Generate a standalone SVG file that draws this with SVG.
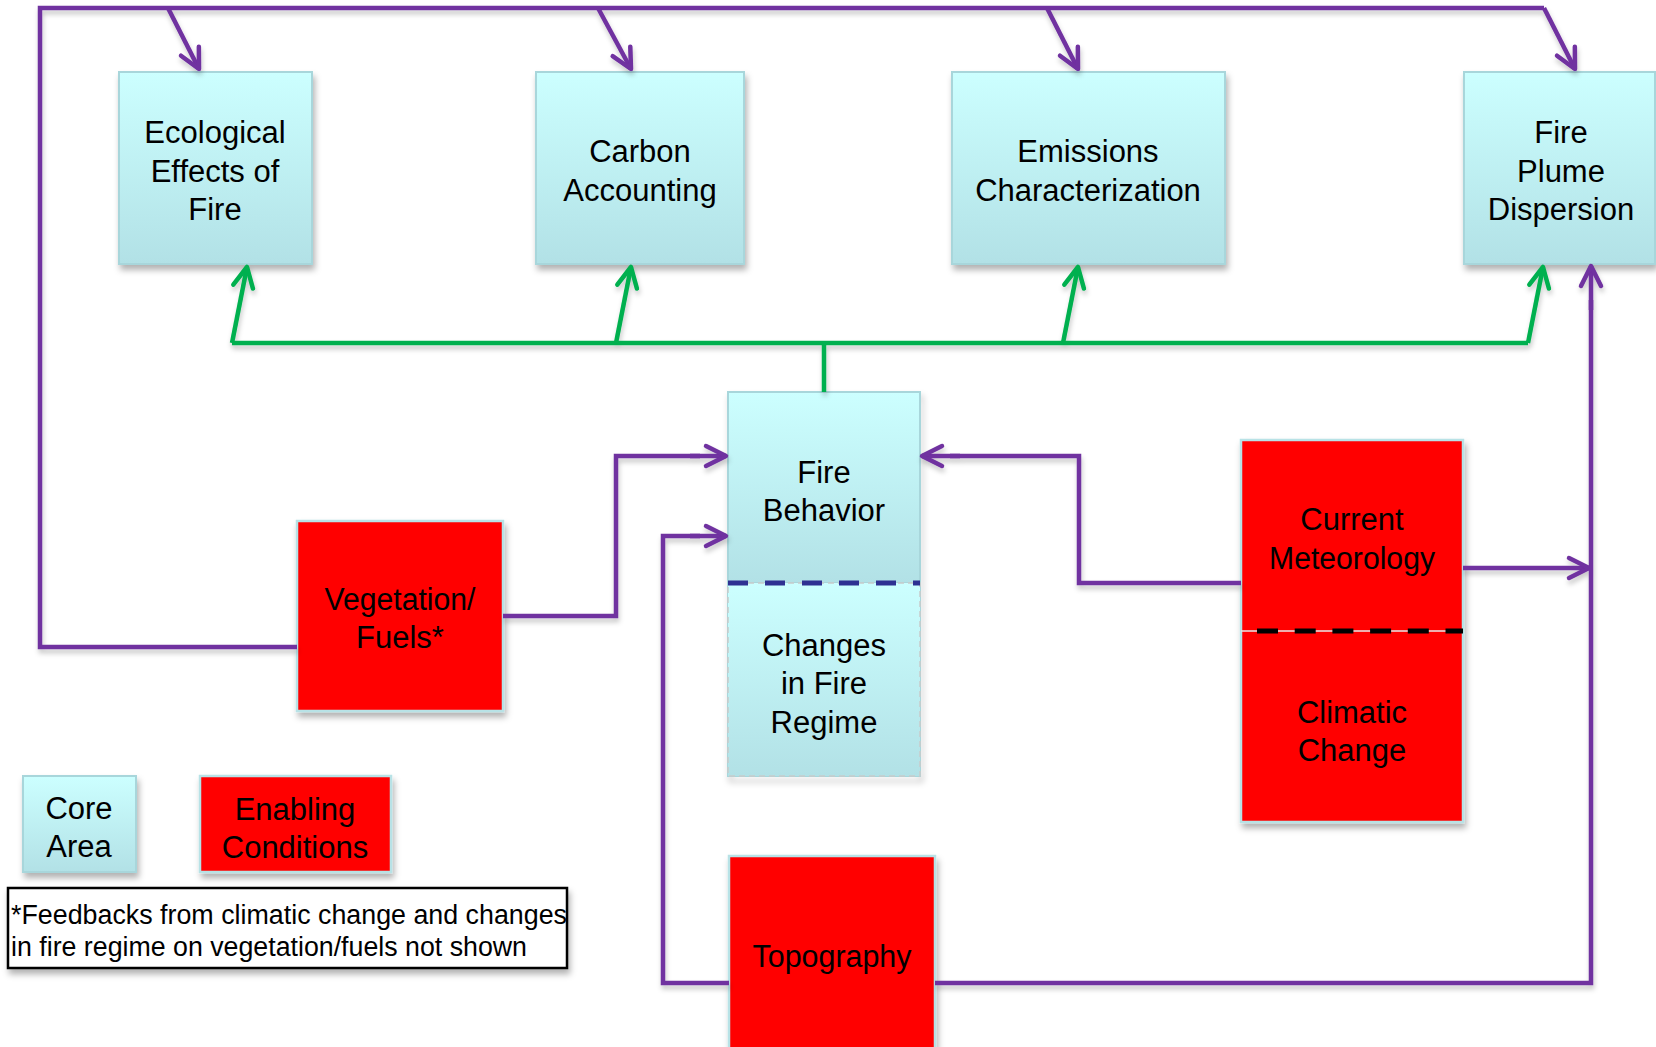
<svg xmlns="http://www.w3.org/2000/svg" width="1656" height="1047" viewBox="0 0 1656 1047">
<defs>
<linearGradient id="cyan" x1="0" y1="0" x2="0" y2="1">
<stop offset="0" stop-color="#CCFFFF"/>
<stop offset="1" stop-color="#B2E1E6"/>
</linearGradient>
<filter id="sh" x="-10%" y="-10%" width="130%" height="130%">
<feDropShadow dx="2" dy="5" stdDeviation="3" flood-color="#000" flood-opacity="0.3"/>
</filter>
<filter id="lsh" x="-5%" y="-5%" width="110%" height="110%">
<feDropShadow dx="1" dy="4" stdDeviation="2.5" flood-color="#000" flood-opacity="0.22"/>
</filter>
<marker id="ap" markerUnits="userSpaceOnUse" markerWidth="50" markerHeight="50" viewBox="-25 -25 50 50" refX="0" refY="0" orient="auto">
<path d="M-20,-10 L0,0 L-20,10" fill="none" stroke="#7030A0" stroke-width="4.5" stroke-linecap="round" stroke-linejoin="round"/>
</marker>
<marker id="ag" markerUnits="userSpaceOnUse" markerWidth="50" markerHeight="50" viewBox="-25 -25 50 50" refX="0" refY="0" orient="auto">
<path d="M-20,-10 L0,0 L-20,10" fill="none" stroke="#00B050" stroke-width="4.5" stroke-linecap="round" stroke-linejoin="round"/>
</marker>
</defs>
<style>
.core{fill:url(#cyan);stroke:#A8D6DB;stroke-width:2;filter:url(#sh)}
.coredash{fill:url(#cyan);stroke:#C8CCCC;stroke-width:1.5;stroke-dasharray:6 4}
.red{fill:#FF0000;stroke:#B8E2E6;stroke-width:2.5;filter:url(#sh)}
.t{font-family:"Liberation Sans",Arial,sans-serif;font-size:31px;fill:#000;text-anchor:middle}
.note{font-family:"Liberation Sans",Arial,sans-serif;font-size:27px;fill:#000}
.p{fill:none;stroke:#7030A0;stroke-width:4.5;stroke-linejoin:miter}
.pa{fill:none;stroke:#7030A0;stroke-width:4.5;marker-end:url(#ap)}
.g{fill:none;stroke:#00B050;stroke-width:4.5}
.ga{fill:none;stroke:#00B050;stroke-width:4.5;marker-end:url(#ag)}
</style>
<rect width="1656" height="1047" fill="#FFFFFF"/>

<g id="node-ecological">
<rect class="core" x="119" y="72" width="193" height="192"/>
<text class="t" x="215" y="143">Ecological</text>
<text class="t" x="215" y="182">Effects of</text>
<text class="t" x="215" y="220">Fire</text>
</g>
<g id="node-carbon">
<rect class="core" x="536" y="72" width="208" height="192"/>
<text class="t" x="640" y="162">Carbon</text>
<text class="t" x="640" y="201">Accounting</text>
</g>
<g id="node-emissions">
<rect class="core" x="952" y="72" width="273" height="192"/>
<text class="t" x="1088" y="162">Emissions</text>
<text class="t" x="1088" y="201">Characterization</text>
</g>
<g id="node-plume">
<rect class="core" x="1464" y="72" width="191" height="192"/>
<text class="t" x="1561" y="143">Fire</text>
<text class="t" x="1561" y="182">Plume</text>
<text class="t" x="1561" y="220">Dispersion</text>
</g>
<g id="node-firebehavior">
<rect class="core" x="728" y="392" width="192" height="384" fill-opacity="0"/>
<rect x="728" y="392" width="192" height="191" fill="url(#cyan)" stroke="#A8D6DB" stroke-width="2"/>
<rect class="coredash" x="728" y="583" width="192" height="193"/>
<line x1="728" y1="583" x2="920" y2="583" stroke="#2E3192" stroke-width="5" stroke-dasharray="20 17"/>
<text class="t" x="824" y="483">Fire</text>
<text class="t" x="824" y="521">Behavior</text>
<text class="t" x="824" y="656">Changes</text>
<text class="t" x="824" y="694">in Fire</text>
<text class="t" x="824" y="733">Regime</text>
</g>
<g id="node-vegetation">
<rect class="red" x="297" y="521" width="206" height="190"/>
<text class="t" x="400" y="610" textLength="151" lengthAdjust="spacingAndGlyphs">Vegetation/</text>
<text class="t" x="400" y="648">Fuels*</text>
</g>
<g id="node-meteorology">
<rect class="red" x="1241" y="440" width="222" height="382"/>
<line x1="1241" y1="631" x2="1463" y2="631" stroke="#E8E8E8" stroke-width="1.5"/>
<line x1="1257" y1="631" x2="1463" y2="631" stroke="#000" stroke-width="5" stroke-dasharray="21 16.7"/>
<text class="t" x="1352" y="530">Current</text>
<text class="t" x="1352" y="569" textLength="166" lengthAdjust="spacingAndGlyphs">Meteorology</text>
<text class="t" x="1352" y="723">Climatic</text>
<text class="t" x="1352" y="761">Change</text>
</g>
<g id="node-topography">
<rect class="red" x="729" y="856" width="206" height="200"/>
<text class="t" x="832" y="967" textLength="159" lengthAdjust="spacingAndGlyphs">Topography</text>
</g>
<g id="legend-core">
<rect class="core" x="23" y="776" width="113" height="96"/>
<text class="t" x="79" y="819">Core</text>
<text class="t" x="79" y="857">Area</text>
</g>
<g id="legend-enabling">
<rect class="red" x="200" y="776" width="191" height="96"/>
<text class="t" x="295" y="820">Enabling</text>
<text class="t" x="295" y="858">Conditions</text>
</g>
<g id="note">
<rect x="8" y="888" width="559" height="80" fill="#FFFFFF" stroke="#000" stroke-width="2.5" filter="url(#sh)"/>
<text class="note" x="11" y="924" textLength="556" lengthAdjust="spacingAndGlyphs">*Feedbacks from climatic change and changes</text>
<text class="note" x="11" y="956" textLength="516" lengthAdjust="spacingAndGlyphs">in fire regime on vegetation/fuels not shown</text>
</g>

<g id="connectors" filter="url(#lsh)">
<path class="p" d="M297,647 L40,647 L40,8 L1544,8"/>
<path class="pa" d="M1544,8 L1575,69"/>
<path class="pa" d="M168,8 L199,69"/>
<path class="pa" d="M598,8 L631,69"/>
<path class="pa" d="M1047,8 L1078,69"/>
<path class="g" d="M232,343 L1528,343 M824,392 L824,343"/>
<path class="ga" d="M232,343 L247,267"/>
<path class="ga" d="M616,343 L631,267"/>
<path class="ga" d="M1063,343 L1078,267"/>
<path class="ga" d="M1528,343 L1543,267"/>
<path class="p" d="M503,616 L616,616 L616,456 L700,456"/>
<path class="pa" d="M690,456 L726,456"/>
<path class="p" d="M1241,583 L1079,583 L1079,456 L950,456"/>
<path class="pa" d="M960,456 L922,456"/>
<path class="pa" d="M1463,568 L1589,568"/>
<path class="p" d="M729,983 L663,983 L663,536 L700,536"/>
<path class="pa" d="M690,536 L726,536"/>
<path class="p" d="M935,983 L1591,983 L1591,300"/>
<path class="pa" d="M1591,310 L1591,266"/>
</g>
</svg>
